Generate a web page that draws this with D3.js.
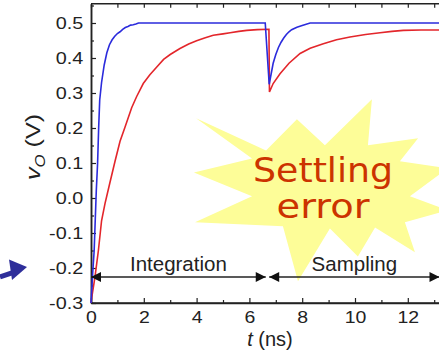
<!DOCTYPE html>
<html><head><meta charset="utf-8">
<script src="https://cdn.jsdelivr.net/npm/d3@7"></script>
<style>
html,body{margin:0;padding:0;background:#fff;}
svg{display:block;}
text{font-family:"Liberation Sans",Arial,sans-serif;fill:#222;}
</style></head><body>
<svg id="chart" width="439" height="350"></svg>
<script>
// Output voltage v_O of the two integrator variants (t in ns, v in V)
const blueT = [0, 0.03, 0.06, 0.12, 0.2, 0.25, 0.29, 0.33, 0.4, 0.5, 0.6, 0.7, 0.8, 0.9, 1.0, 1.1, 1.2, 1.3, 1.4, 1.5, 1.6, 1.7, 1.8, 3, 4.5, 6.6,
  6.75, 6.8, 6.9, 7.0, 7.1, 7.2, 7.3, 7.4, 7.5, 7.6, 7.8, 8.0, 8.3, 10, 12, 13.5];
const blueV = [-0.3, -0.26, -0.22, -0.15, 0.02, 0.1, 0.2, 0.28, 0.33, 0.38, 0.415, 0.438, 0.452, 0.462, 0.47, 0.475, 0.482, 0.487, 0.49, 0.494, 0.495, 0.497, 0.5, 0.5, 0.5, 0.5,
  0.325, 0.345, 0.385, 0.41, 0.43, 0.445, 0.457, 0.467, 0.475, 0.481, 0.488, 0.493, 0.5, 0.5, 0.5, 0.5];

const redT = [0, 0.03, 0.15, 0.28, 0.4, 0.53, 0.72, 0.91, 1.1, 1.29, 1.54, 1.73, 1.98, 2.23, 2.5, 2.75, 3.0, 3.37, 3.7, 4.0, 4.3, 4.63, 5.0, 5.27, 5.6, 5.9, 6.3, 6.74,
  6.76, 6.9, 7.16, 7.5, 7.92, 8.3, 8.8, 9.3, 9.81, 10.4, 10.95, 11.4, 11.83, 12.5, 13.5];
const redV = [-0.3, -0.283, -0.226, -0.15, -0.065, -0.016, 0.045, 0.105, 0.162, 0.203, 0.258, 0.29, 0.327, 0.352, 0.375, 0.396, 0.41, 0.427, 0.44, 0.449, 0.457, 0.465, 0.469, 0.472, 0.476, 0.479, 0.481, 0.482,
  0.303, 0.327, 0.355, 0.385, 0.413, 0.428, 0.441, 0.452, 0.46, 0.467, 0.472, 0.476, 0.479, 0.48, 0.48];

const xTicks = [0, 2, 4, 6, 8, 10, 12];
const xTickLabels = ["0", "2", "4", "6", "8", "10", "12"];
const xMinorTicks = [1, 3, 5, 7, 9, 11, 13];
const yTicks = [-0.3, -0.2, -0.1, 0.0, 0.1, 0.2, 0.3, 0.4, 0.5];
const yTickLabels = ["-0.3", "-0.2", "-0.1", "0.0", "0.1", "0.2", "0.3", "0.4", "0.5"];
const yMinorTicks = [-0.25, -0.15, -0.05, 0.05, 0.15, 0.25, 0.35, 0.45, 0.55];

// Clock phases marked under the traces
const phaseNames = ["Integration", "Sampling"];
const phaseStart = [0, 6.75];
const phaseEnd = [6.62, 13.2];
const phaseLevel = -0.226;

// Callout burst outline, in (t, v) units
const burstT = [3.98, 6.63, 7.80, 8.86, 10.64, 10.49, 12.39, 11.70, 13.52, 12.08, 13.52, 11.89, 12.27, 10.76, 10.11, 9.05, 7.84, 7.27, 3.94, 6.10, 3.90, 6.10];
const burstV = [0.228, 0.136, 0.225, 0.151, 0.282, 0.151, 0.171, 0.105, 0.085, 0.005, -0.035, -0.069, -0.155, -0.084, -0.167, -0.087, -0.238, -0.081, -0.069, 0.005, 0.073, 0.113];
const calloutLines = ["Settling", "error"];

const svg = d3.select("#chart");
const x = d3.scaleLinear().domain([0, 13.5]).range([91, 91 + 13.5 * 26.4]);
const y = d3.scaleLinear().domain([-0.3, 0.555]).range([303, 3.75]);
const x0 = x.range()[0], y0 = y.range()[0], yTop = y.range()[1];

// Callout burst (behind everything else)
const burst = burstT.map((t, i) => [x(t), y(burstV[i])]);
svg.append("path")
  .attr("d", "M" + burst.map(p => p.join(",")).join("L") + "Z")
  .attr("fill", "#fdfd98");

// Frame: top line
svg.append("line").attr("x1", x0).attr("x2", 439).attr("y1", yTop).attr("y2", yTop)
  .attr("stroke", "#222").attr("stroke-width", 1.5);

// Axes with inward ticks
const gx = svg.append("g").attr("transform", `translate(0,${y0})`)
  .call(d3.axisBottom(x).tickValues(xTicks).tickSizeInner(-5).tickSizeOuter(0)
    .tickFormat((d, i) => xTickLabels[i]));
gx.append("g").call(d3.axisBottom(x).tickValues(xMinorTicks).tickSizeInner(-3).tickSizeOuter(0).tickFormat(""));
const gxTop = svg.append("g").attr("transform", `translate(0,${yTop})`)
  .call(d3.axisTop(x).tickValues(d3.range(0, 14)).tickSizeInner(-4).tickSizeOuter(0).tickFormat(""));
gxTop.select(".domain").remove();

const gy = svg.append("g").attr("transform", `translate(${x0},0)`)
  .call(d3.axisLeft(y).tickValues(yTicks).tickSizeInner(-5).tickSizeOuter(0)
    .tickFormat((d, i) => yTickLabels[i]));
gy.append("g").call(d3.axisLeft(y).tickValues(yMinorTicks).tickSizeInner(-3).tickSizeOuter(0).tickFormat(""));

svg.selectAll(".domain").attr("stroke", "#222").attr("stroke-width", 1.5);
svg.selectAll(".tick line").attr("stroke", "#222").attr("stroke-width", 1.2);
gx.selectAll(".tick text")
  .attr("y", 20).attr("dy", null)
  .attr("font-size", 16.5).attr("fill", "#222")
  .attr("transform", "scale(1.18,1)");
gy.selectAll(".tick text")
  .attr("x", -6.5).attr("dy", "0.36em")
  .attr("font-size", 16.5).attr("fill", "#222")
  .attr("transform", "scale(1.2,1)");
gx.select(".domain").attr("d", `M${x0},0H439`);

// Traces
const line = d3.line().x(d => x(d[0])).y(d => y(d[1]));
svg.append("path").datum(redT.map((t, i) => [t, redV[i]]))
  .attr("d", line).attr("fill", "none").attr("stroke", "#e3262b").attr("stroke-width", 1.6);
svg.append("path").datum(blueT.map((t, i) => [t, blueV[i]]))
  .attr("d", line).attr("fill", "none").attr("stroke", "#2b2bdc").attr("stroke-width", 1.6);

// Phase arrows
const ay = y(phaseLevel);
phaseNames.forEach((name, i) => {
  const a = x(phaseStart[i]), b = x(phaseEnd[i]);
  svg.append("line").attr("x1", a).attr("x2", b).attr("y1", ay).attr("y2", ay)
    .attr("stroke", "#222").attr("stroke-width", 1.5);
  svg.append("path").attr("d", `M${a},${ay}L${a + 10},${ay - 5}L${a + 10},${ay + 5}Z`).attr("fill", "#111");
  svg.append("path").attr("d", `M${b},${ay}L${b - 10},${ay - 5}L${b - 10},${ay + 5}Z`).attr("fill", "#111");
  svg.append("text").attr("x", (a + b) / 2).attr("y", ay - 6)
    .attr("text-anchor", "middle").attr("font-size", 20.5).text(name);
});

// Callout text
const cx = x(8.79);
[0.047, -0.058].forEach((v, i) => {
  svg.append("text").attr("x", cx).attr("y", y(v)).attr("text-anchor", "middle")
    .style("font-family", "'DejaVu Sans', sans-serif").style("font-size", "34px")
    .style("fill", "#cc3300")
    .attr("textLength", i === 0 ? 140 : 93).attr("lengthAdjust", "spacingAndGlyphs")
    .text(calloutLines[i]);
});

// Axis titles
const xt = svg.append("text").attr("x", 270).attr("y", 346).attr("text-anchor", "middle").attr("font-size", 20);
xt.append("tspan").attr("font-style", "italic").text("t");
xt.append("tspan").text(" (ns)");

const yt = svg.append("text").attr("transform", "translate(40,147) rotate(-90) scale(1.2,1)")
  .attr("text-anchor", "middle").attr("font-size", 21);
yt.append("tspan").attr("font-style", "italic").text("v");
yt.append("tspan").attr("font-size", 14).attr("dy", 5).attr("font-style", "italic").text("O");
yt.append("tspan").attr("dy", -5).text(" (V)");

// Pointer arrow at the left margin
const py = y(-0.197);
const pointer = d3.path();
pointer.moveTo(x0 - 64, py);
pointer.lineTo(x0 - 82, py - 7.5);
pointer.lineTo(x0 - 79, py + 13);
pointer.closePath();
svg.append("path").attr("d", pointer.toString()).attr("fill", "#2e2e9a");
svg.append("line").attr("x1", 0).attr("y1", py + 10).attr("x2", x0 - 76).attr("y2", py + 5)
  .attr("stroke", "#2e2e9a").attr("stroke-width", 5);
</script>
</body></html>
